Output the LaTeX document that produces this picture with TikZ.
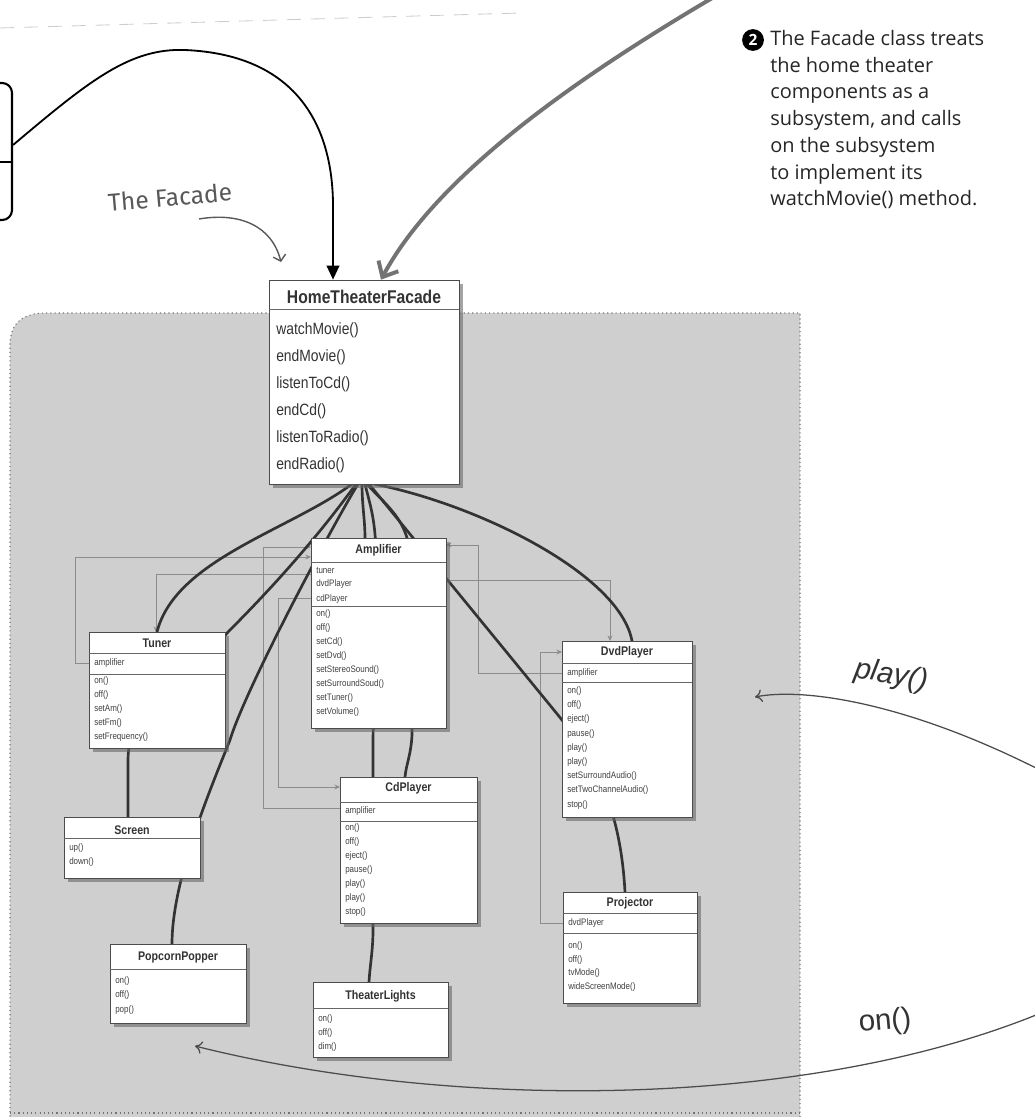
\documentclass[tikz,border=0pt]{standalone}
\usepackage{fontspec}
\setmainfont{Liberation Sans}
\newfontfamily\umlfont[FakeStretch=0.85]{Liberation Sans}
\newfontfamily\notefont{Open Sans}
\newfontfamily\handfont{Fira Sans}
\usetikzlibrary{arrows.meta,fit,shadows}

\tikzset{
  classbox/.style={draw=black!70, line width=0.5pt, fill=white, inner sep=0pt,
    drop shadow={shadow xshift=3pt, shadow yshift=-3pt, opacity=0.6, fill=black!60}},
  classname/.style={inner sep=0pt, font=\umlfont\bfseries\fontsize{8.9}{10}\selectfont, text=black!80},
  member/.style={anchor=west, inner sep=0pt, font=\umlfont\fontsize{6.7}{7}\selectfont, text=black!75},
  bigname/.style={inner sep=0pt, font=\umlfont\bfseries\fontsize{13.1}{15}\selectfont, text=black!80},
  bigmember/.style={anchor=west, inner sep=0pt, font=\umlfont\fontsize{11.6}{13}\selectfont, text=black!80},
  divider/.style={draw=black!60, line width=0.5pt},
  assoc/.style={draw=black!45, line width=0.6pt, -{Stealth[length=4pt,width=3.5pt]}},
  wire/.style={draw=black!80, line width=1.9pt, line cap=round},
  call/.style={draw=black!70, line width=0.9pt, -{To[length=5pt,width=9pt]}},
}

\begin{document}
\begin{tikzpicture}[x=0.025cm, y=-0.025cm]
  \useasboundingbox (0,0) rectangle (1034,1117);

  % the subsystem area
  \fill[black!19] (10,1125) -- (10,345) .. controls (10,322) and (24,313) .. (46,313)
    -- (800,313) -- (800,1125) -- cycle;
  \draw[black!55, line width=0.8pt, dash pattern=on 0.8pt off 2.2pt]
    (10,1125) -- (10,345) .. controls (10,322) and (24,313) .. (46,313)
    -- (800,313) -- (800,1125);
  \draw[black!55, line width=0.8pt, dash pattern=on 0.8pt off 2.2pt] (10,1113) -- (800,1113);
  \draw[black!20, line width=0.6pt, dash pattern=on 10pt off 7pt] (0,28) -- (520,13);

  \coordinate (gstart) at (714,-3);
  \coordinate (playstart) at (1036,768);
  \coordinate (playend) at (755,697);
  \coordinate (onstart) at (1036,1015);
  \coordinate (onend) at (195,1046);
  \coordinate (handstart) at (199,219);
  \coordinate (handend) at (281,262);

  % association lines
  \draw[assoc] (89,663) -| (75,557) -- (311,557);
  \draw[assoc] (311,574) -| (156,632);
  \draw[assoc] (311,598) -| (278,787) -- (340,787);
  \draw[assoc] (340,808) -| (263,547) -- (311,547);
  \draw[assoc] (446,580) -| (610,641);
  \draw[assoc] (562,673) -| (478,545) -- (446,545);
  \draw[assoc] (563,923) -| (540,652) -- (562,652);

  % facade to subsystem classes
  \draw[wire] (352,484) .. controls (290,530) and (175,560) .. (157,632);
  \draw[wire] (356,484) .. controls (330,520) and (290,570) .. (228,632)
    .. controls (190,680) and (128,700) .. (128,760) -- (128,817);
  \draw[wire] (358,484) .. controls (330,530) and (245,690) .. (230,740)
    .. controls (210,790) and (172,880) .. (172,944);
  \draw[wire] (362,484) .. controls (362,505) and (365,520) .. (365,538);
  \draw[wire] (365,484) .. controls (370,505) and (376,520) .. (376,560)
    -- (373,740) -- (373,930)
    .. controls (373,950) and (370,965) .. (369,982);
  \draw[wire] (367,484) .. controls (385,505) and (410,520) .. (410,560)
    -- (412,735) .. controls (411,755) and (406,765) .. (405,777);
  \draw[wire] (369,484) -- (558,715) .. controls (590,755) and (620,800) .. (625,892);
  \draw[wire] (374,484) .. controls (480,505) and (620,575) .. (632,641);

  % HomeTheaterFacade
  \node[classbox, fit={(269,280) (459,484)}] (facade) {};
  \node[bigname] (facade-title) at (364,297) {HomeTheaterFacade};
  \draw[divider] (facade.west |- 0,309) -- (facade.east |- 0,309);
  \foreach \m [count=\i] in {watchMovie(),endMovie(),listenToCd(),endCd(),listenToRadio(),endRadio()}
    \node[bigmember] (facade-m\i) at (276,{330+(\i-1)*27}) {\m};

  % Amplifier
  \node[classbox, fit={(311,538) (446,728)}] (amp) {};
  \node[classname] (amp-title) at (378.5,550) {Amplifier};
  \draw[divider] (amp.west |- 0,562) -- (amp.east |- 0,562);
  \draw[divider] (amp.west |- 0,606) -- (amp.east |- 0,606);
  \foreach \m [count=\i] in {tuner,dvdPlayer,cdPlayer}
    \node[member] (amp-a\i) at (316,{570+(\i-1)*14.5}) {\m};
  \foreach \m [count=\i] in {on(),off(),setCd(),setDvd(),setStereoSound(),setSurroundSoud(),setTuner(),setVolume()}
    \node[member] (amp-m\i) at (316,{614+(\i-1)*14}) {\m};

  % Tuner
  \node[classbox, fit={(89,632) (225,748)}] (tuner) {};
  \node[classname] (tuner-title) at (157,643) {Tuner};
  \draw[divider] (tuner.west |- 0,653) -- (tuner.east |- 0,653);
  \draw[divider] (tuner.west |- 0,674) -- (tuner.east |- 0,674);
  \node[member] (tuner-a1) at (94,663) {amplifier};
  \foreach \m [count=\i] in {on(),off(),setAm(),setFm(),setFrequency()}
    \node[member] (tuner-m\i) at (94,{681+(\i-1)*14}) {\m};

  % DvdPlayer
  \node[classbox, fit={(562,641) (692,817)}] (dvd) {};
  \node[classname] (dvd-title) at (627,652) {DvdPlayer};
  \draw[divider] (dvd.west |- 0,663) -- (dvd.east |- 0,663);
  \draw[divider] (dvd.west |- 0,682) -- (dvd.east |- 0,682);
  \node[member] (dvd-a1) at (567,673) {amplifier};
  \foreach \m [count=\i] in {on(),off(),eject(),pause(),play(),play(),setSurroundAudio(),setTwoChannelAudio(),stop()}
    \node[member] (dvd-m\i) at (567,{691+(\i-1)*14.2}) {\m};

  % CdPlayer
  \node[classbox, fit={(340,777) (477,923)}] (cd) {};
  \node[classname] (cd-title) at (408.5,788) {CdPlayer};
  \draw[divider] (cd.west |- 0,802) -- (cd.east |- 0,802);
  \draw[divider] (cd.west |- 0,821) -- (cd.east |- 0,821);
  \node[member] (cd-a1) at (345,811) {amplifier};
  \foreach \m [count=\i] in {on(),off(),eject(),pause(),play(),play(),stop()}
    \node[member] (cd-m\i) at (345,{828+(\i-1)*14}) {\m};

  % Screen
  \node[classbox, fit={(64,817) (200,878)}] (screen) {};
  \node[classname] (screen-title) at (132,830) {Screen};
  \draw[divider] (screen.west |- 0,838) -- (screen.east |- 0,838);
  \foreach \m [count=\i] in {up(),down()}
    \node[member] (screen-m\i) at (69,{848+(\i-1)*14}) {\m};

  % PopcornPopper
  \node[classbox, fit={(110,944) (246,1023)}] (popcorn) {};
  \node[classname] (popcorn-title) at (178,957) {PopcornPopper};
  \draw[divider] (popcorn.west |- 0,969) -- (popcorn.east |- 0,969);
  \foreach \m [count=\i] in {on(),off(),pop()}
    \node[member] (popcorn-m\i) at (115,{981+(\i-1)*14.5}) {\m};

  % TheaterLights
  \node[classbox, fit={(313,982) (448,1057)}] (lights) {};
  \node[classname] (lights-title) at (380.5,996) {TheaterLights};
  \draw[divider] (lights.west |- 0,1008) -- (lights.east |- 0,1008);
  \foreach \m [count=\i] in {on(),off(),dim()}
    \node[member] (lights-m\i) at (318,{1019+(\i-1)*14}) {\m};

  % Projector
  \node[classbox, fit={(563,892) (697,1003)}] (proj) {};
  \node[classname] (proj-title) at (630,903) {Projector};
  \draw[divider] (proj.west |- 0,913) -- (proj.east |- 0,913);
  \draw[divider] (proj.west |- 0,933) -- (proj.east |- 0,933);
  \node[member] (proj-a1) at (568,923) {dvdPlayer};
  \foreach \m [count=\i] in {on(),off(),tvMode(),wideScreenMode()}
    \node[member] (proj-m\i) at (568,{946+(\i-1)*13.7}) {\m};

  % client side, cut off at the left
  \node[draw, line width=1.5pt, rounded corners=7pt, inner sep=0pt, fit={(-40,83) (12,220)}] (client) {};
  \draw[line width=1.5pt] (client.west |- 0,162) -- (client.east |- 0,162);
  \draw[line width=1.3pt, -{Triangle[length=10pt,width=9pt]}]
    (client.east |- 0,145) .. controls (90,80) and (130,48) .. (185,50)
    .. controls (300,55) and (334,130) .. (333,210) -- (facade.north -| 333,0);
  \draw[black!55, line width=2.8pt, -{Straight Barb[length=9pt,width=16pt]}]
    (gstart) .. controls (590,70) and (440,170) .. (facade.north -| 381,0);

  % notes
  \node[font=\handfont\fontsize{17.5}{20}\selectfont, text=black!65, rotate=5] (facadelabel) at (170,197) {The Facade};
  \draw[black!65, line width=1pt, -{Straight Barb[length=4pt,width=9pt]}]
    (handstart) .. controls (240,212) and (272,226) .. (handend);
  \node[circle, fill=black, inner sep=0pt, minimum size=15.5pt, text=white,
    font=\notefont\bfseries\fontsize{11}{12}\selectfont] (num) at (753,40) {2};
  \node[anchor=north west, align=left, inner sep=0pt, text=black!85,
    font=\notefont\fontsize{14.2}{19}\selectfont] (note) at (770,30)
    {The Facade class treats\\the home theater\\components as a\\subsystem, and calls\\on the subsystem\\to implement its\\watchMovie() method.};

  % calls from the client
  \node[font=\itshape\fontsize{21}{23}\selectfont, text=black!80, rotate=-10] (playlabel) at (891,676) {play()};
  \draw[call] (playstart) .. controls (900,700) and (800,688) .. (playend);
  \node[font=\fontsize{21}{23}\selectfont, text=black!80, rotate=5] (onlabel) at (885,1022) {on()};
  \draw[call] (onstart) .. controls (800,1110) and (450,1110) .. (onend);
\end{tikzpicture}
\end{document}
